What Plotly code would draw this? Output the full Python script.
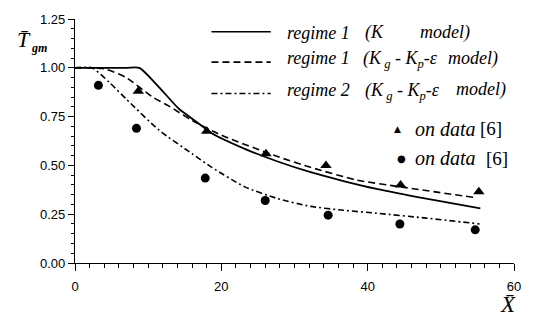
import plotly.graph_objects as go

# ---- data ----
solid_x = [0, 7.0, 8.8, 11.5, 14.2, 16.9, 18.7, 23.2, 27.7, 32.2, 36.7, 41.2, 48.0, 55.4]
solid_y = [1.0, 1.0, 1.0, 0.90, 0.79, 0.715, 0.665, 0.585, 0.52, 0.465, 0.42, 0.38, 0.33, 0.28]

dashed_x = [0, 4.0, 7.0, 10.6, 12.8, 16.0, 20.0, 27.7, 32.2, 38.5, 44.5, 54.7]
dashed_y = [1.0, 0.995, 0.95, 0.85, 0.805, 0.73, 0.655, 0.545, 0.49, 0.425, 0.39, 0.335]

dashdot_x = [0, 2.3, 4.7, 7.0, 11.5, 16.0, 18.7, 23.2, 27.7, 32.2, 36.7, 41.2, 48.0, 55.3]
dashdot_y = [1.0, 1.0, 0.925, 0.84, 0.68, 0.56, 0.49, 0.39, 0.33, 0.29, 0.27, 0.255, 0.23, 0.20]

tri_x = [8.65, 18.0, 26.1, 34.3, 44.5, 55.2]
tri_y = [0.88, 0.675, 0.56, 0.50, 0.40, 0.365]

circ_x = [3.2, 8.4, 17.8, 26.0, 34.6, 44.4, 54.7]
circ_y = [0.91, 0.69, 0.435, 0.32, 0.245, 0.20, 0.17]

x_ticks = [0, 20, 40, 60]
y_ticks = [0.00, 0.25, 0.50, 0.75, 1.00, 1.25]

regime_labels = ["regime 1", "regime 1", "regime 2"]
model_k = "(K"
model_kgkp = "(K<sub> g</sub> - K<sub>p</sub>-ε"
model_word = "model)"
marker_label = "on data"
ref_label = "[6]"

# ---- layout geometry (pixels) ----
W, H = 533, 322
L, R, T, B = 75, 14, 14, 59
PW, PH = W - L - R, H - T - B


def px(xp):
    return (xp - L) / PW


def py(yp):
    return (H - B - yp) / PH


fig = go.Figure()
fig.add_trace(go.Scatter(x=solid_x, y=solid_y, mode="lines", line=dict(color="black", width=1.8, shape="spline", smoothing=0.6), showlegend=False))
fig.add_trace(go.Scatter(x=dashed_x, y=dashed_y, mode="lines", line=dict(color="black", width=1.6, dash="7px,4px", shape="spline", smoothing=0.6), showlegend=False))
fig.add_trace(go.Scatter(x=dashdot_x, y=dashdot_y, mode="lines", line=dict(color="black", width=1.6, dash="6px,3px,2px,3px", shape="spline", smoothing=0.6), showlegend=False))
fig.add_trace(go.Scatter(x=tri_x, y=tri_y, mode="markers", marker=dict(symbol="triangle-up", size=10, color="black"), showlegend=False))
fig.add_trace(go.Scatter(x=circ_x, y=circ_y, mode="markers", marker=dict(symbol="circle", size=9, color="black"), showlegend=False))

serif = "Liberation Serif"
sans = "Liberation Sans"


def txt(xp, yp, s, size, italic=True, bold=False, family=serif, yanchor="middle"):
    if bold:
        s = "<b>" + s + "</b>"
    if italic:
        s = "<i>" + s + "</i>"
    fig.add_annotation(xref="paper", yref="paper", x=px(xp), y=py(yp), xanchor="left", yanchor=yanchor,
                       text=s, showarrow=False, font=dict(family=family, size=size, color="black"))


# legend lines
dashes = ["solid", "7px,4px", "6px,3px,2px,3px"]
rows_y = [27, 58, 90]
text_y = [28, 54, 86]
LS = 18
for i, (d, ly, ty, lab) in enumerate(zip(dashes, rows_y, text_y, regime_labels)):
    fig.add_shape(type="line", xref="paper", yref="paper", x0=px(213), x1=px(273), y0=py(ly), y1=py(ly),
                  line=dict(color="black", width=1.6, dash=d))
    txt(287, ty, lab, LS)
    if i == 0:
        txt(366, ty, model_k, LS)
        txt(422, ty, model_word, LS)
    else:
        off = 0 if i == 1 else 2
        fig.add_annotation(xref="paper", yref="paper", x=px(364 + off), y=py(ty - 12), xanchor="left", yanchor="top",
                           text="<i>" + model_kgkp + "</i>", showarrow=False,
                           font=dict(family=serif, size=LS, color="black"))
        txt(450 + 8 * (i - 1), ty, model_word, LS)

# marker legend entries
txt(396, 126, "▲", 9, italic=False, family="DejaVu Sans")
txt(417, 126, marker_label, 20)
txt(483, 126, ref_label, 19, italic=False)
txt(399, 156, "●", 10, italic=False, family="DejaVu Sans")
txt(417, 156, marker_label, 20)
txt(489, 156, ref_label, 19, italic=False)

# axis titles
txt(14, 35, "T̄", 22)
txt(28, 44, "gm", 12, bold=True)
txt(503, 305, "X̄", 23)

fig.update_layout(
    width=W, height=H,
    margin=dict(l=L, r=R, t=T, b=B),
    paper_bgcolor="white", plot_bgcolor="white",
    showlegend=False,
    xaxis=dict(range=[0, 60], tickvals=x_ticks, ticktext=[str(v) for v in x_ticks],
               showgrid=False, zeroline=False, showline=True, linecolor="black", linewidth=1.2,
               ticks="outside", ticklen=7, tickcolor="black", tickwidth=1.2, ticklabelstandoff=4,
               minor=dict(dtick=2, ticks="outside", ticklen=4, tickcolor="black", tickwidth=1),
               tickfont=dict(family=sans, size=13, color="black")),
    yaxis=dict(range=[0, 1.25], tickvals=y_ticks, ticktext=["%.2f" % v for v in y_ticks],
               showgrid=False, zeroline=False, showline=True, linecolor="black", linewidth=1.2,
               ticks="outside", ticklen=6, tickcolor="black", tickwidth=1.2,
               minor=dict(dtick=0.05, ticks="outside", ticklen=3, tickcolor="black", tickwidth=1),
               tickfont=dict(family=sans, size=13, color="black")),
)

fig.write_html("out.html", config={"displayModeBar": False},
               post_script="document.body.style.margin='0';")
